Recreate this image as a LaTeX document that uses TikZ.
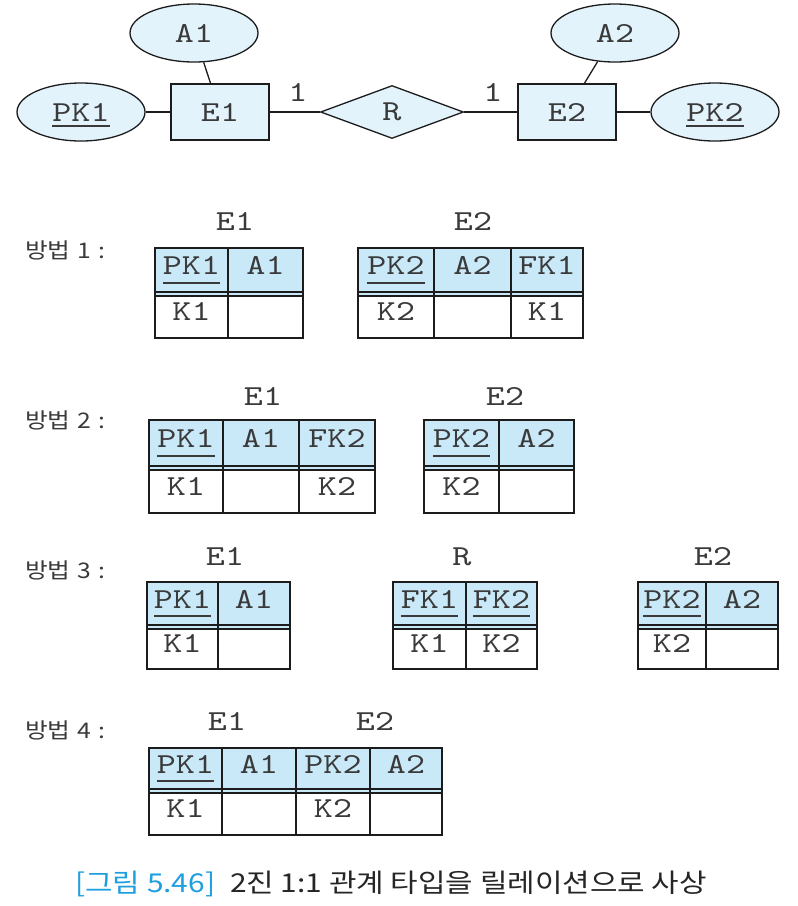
\documentclass[tikz,border=0pt]{standalone}
\usepackage{fontspec}
\usetikzlibrary{shapes.geometric}
\newfontfamily\mono[FakeStretch=1.25]{lmmono10-regular.otf}
\newfontfamily\kor[FakeStretch=1.15]{Noto Sans CJK KR}
\definecolor{hdrfill}{HTML}{C9E9F9}
\definecolor{erfill}{HTML}{E2F3FC}
\definecolor{lin}{HTML}{1C1C1C}
\definecolor{txt}{HTML}{3A3A3A}
\definecolor{capblue}{HTML}{1E9FE0}
\newcommand\monofs{\mono\fontsize{29pt}{31pt}\selectfont}
\newcommand\keyu[2][9pt]{\setbox0=\hbox{#2}\rlap{\smash{\rule[-#1]{\wd0}{1.6pt}}}\box0}
\newcommand\mlab[1]{방법\hspace{7pt}#1\hspace{7pt}:}
\tikzset{
  tabline/.style={draw=lin,line width=1.3pt},
  cell/.style={font=\monofs,text=txt,inner sep=0pt,text height=17pt,text depth=0pt},
  ttl/.style={font=\monofs,text=txt,inner sep=0pt,text height=17pt,text depth=0pt},
  mlabel/.style={font=\kor\fontsize{21.5pt}{23pt}\selectfont,text=txt,inner sep=0pt,anchor=west},
  attr/.style={ellipse,draw=lin,line width=1.3pt,fill=erfill,minimum width=128pt,minimum height=58pt,inner sep=0pt,font=\monofs,text=txt},
  ent/.style={rectangle,draw=lin,line width=1.3pt,fill=erfill,minimum width=98pt,minimum height=56pt,inner sep=0pt,font=\monofs,text=txt},
  rel/.style={diamond,draw=lin,line width=1.3pt,fill=erfill,minimum width=143pt,minimum height=53pt,inner sep=0pt,font=\monofs,text=txt},
  conn/.style={draw=lin,line width=1.3pt},
  card/.style={font=\monofs,text=txt,inner sep=0pt}
}
% #1 name, #2 top, #3 line1, #4 line2, #5 bottom, #6 columns xa/xb/head/data
\newcommand\reltab[6]{%
  \foreach \xa/\xb/\h/\d [count=\i] in {#6} {
    \fill[hdrfill] (\xa,#2) rectangle (\xb,#4);
    \draw[tabline] (\xa,#2) rectangle (\xb,#5);
    \draw[tabline] (\xa,#3) -- (\xb,#3);
    \draw[tabline] (\xa,#4) -- (\xb,#4);
    \node[cell] (#1h\i) at ({(\xa+\xb)/2},{(#2+#3)/2-4}) {\h};
    \node[cell] (#1d\i) at ({(\xa+\xb)/2},{(#4+#5)/2-5}) {\d};
  }}
\begin{document}
\begin{tikzpicture}[x=1pt,y=-1pt]
\fill[white] (0,0) rectangle (798,906);
\useasboundingbox (0,0) rectangle (798,906);

% ---------- ER diagram ----------
\node[attr] (A1) at (194,33) {A1};
\node[attr] (PK1) at (81,112) {\keyu[6pt]{PK1}};
\node[ent] (E1) at (220,112) {E1};
\node[rel] (R) at (392,112) {R};
\node[ent] (E2) at (567,112) {E2};
\node[attr] (A2) at (615,33) {A2};
\node[attr] (PK2) at (715,112) {\keyu[6pt]{PK2}};
\draw[conn] (PK1) -- (E1);
\draw[conn] (A1) -- (E1);
\draw[conn] (E1) -- (R);
\draw[conn] (R) -- (E2);
\draw[conn] (E2) -- (PK2);
\draw[conn] (A2) -- (E2);
\node[card] (c1) at (298,92) {1};
\node[card] (c2) at (493,92) {1};

% ---------- Method 1 ----------
\node[mlabel] (m1) at (25,250) {\mlab{1}};
\node[ttl] (t1a) at (235,222) {E1};
\node[ttl] (t1b) at (473,222) {E2};
\reltab{ma}{248}{292}{296}{338}{155/228/{\keyu{PK1}}/K1, 228/303/A1/{}}
\reltab{mb}{248}{292}{296}{338}{358/434/{\keyu{PK2}}/K2, 434/511/A2/{}, 511/583/FK1/K1}

% ---------- Method 2 ----------
\node[mlabel] (m2) at (25,420) {\mlab{2}};
\node[ttl] (t2a) at (263,397) {E1};
\node[ttl] (t2b) at (505,397) {E2};
\reltab{mc}{420}{466}{470}{513}{149/223/{\keyu{PK1}}/K1, 223/299/A1/{}, 299/375/FK2/K2}
\reltab{md}{420}{466}{470}{513}{424/499/{\keyu{PK2}}/K2, 499/574/A2/{}}

% ---------- Method 3 ----------
\node[mlabel] (m3) at (25,570) {\mlab{3}};
\node[ttl] (t3a) at (225,557) {E1};
\node[ttl] (t3b) at (462,557) {R};
\node[ttl] (t3c) at (713,557) {E2};
\reltab{me}{582}{625}{629}{669}{147/218/{\keyu{PK1}}/K1, 218/290/A1/{}}
\reltab{mf}{582}{625}{629}{669}{393/466/{\keyu{FK1}}/K1, 466/537/{\keyu{FK2}}/K2}
\reltab{mg}{582}{625}{629}{669}{638/706/{\keyu{PK2}}/K2, 706/778/A2/{}}

% ---------- Method 4 ----------
\node[mlabel] (m4) at (25,730) {\mlab{4}};
\node[ttl] (t4a) at (227,722) {E1};
\node[ttl] (t4b) at (375,722) {E2};
\reltab{mh}{748}{789}{793}{835}{149/222/{\keyu{PK1}}/K1, 222/296/A1/{}, 296/370/PK2/K2, 370/442/A2/{}}

% ---------- Caption ----------
\node[inner sep=0pt,anchor=west,font=\kor\fontsize{26pt}{28pt}\selectfont] (cap) at (75,884)
  {\textcolor{capblue}{[그림 5.46]}\hspace{15pt}\textcolor{black!85}{2진 1:1 관계 타입을 릴레이션으로 사상}};
\end{tikzpicture}
\end{document}
